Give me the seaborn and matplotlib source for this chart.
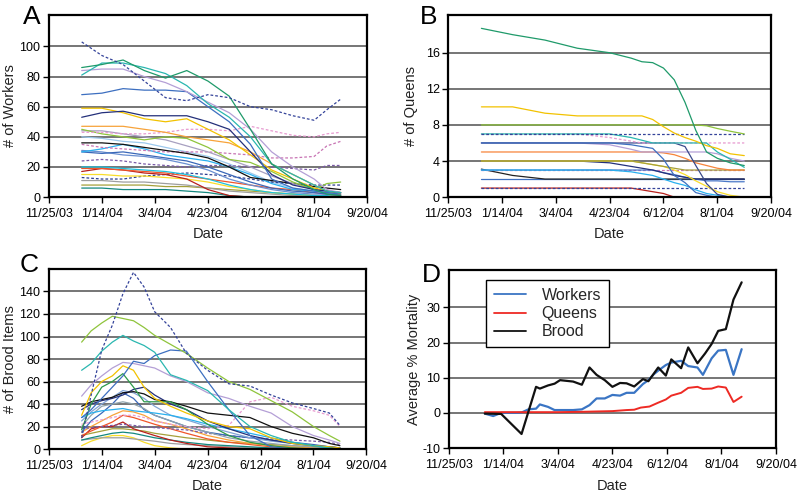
import matplotlib
matplotlib.use("Agg")
import matplotlib.pyplot as plt
import seaborn as sns

# ---------------- shared x axis (days since 11/25/03) ----------------
XTICKS = [0, 50, 100, 150, 200, 250, 300]
XLABELS = ["11/25/03", "1/14/04", "3/4/04", "4/23/04", "6/12/04", "8/1/04", "9/20/04"]

# ---------------- Panel A: # of Workers ----------------
A_days = [31, 50, 70, 90, 110, 130, 150, 170, 190, 210, 230, 250, 262, 275]
a_navy_dot = [103, 94, 88, 77, 66, 64, 68, 66, 60, 58, 54, 51, 58, 65]
a_green = [86, 88, 91, 84, 79, 84, 77, 67, 45, 22, 12, 5, 2, 1]
a_teal = [81, 89, 89, 86, 82, 74, 62, 53, 40, 22, 15, 8, 4, 3]
a_lavender = [84, 85, 85, 80, 76, 70, 63, 56, 45, 30, 20, 12, 5, 3]
a_blue = [68, 69, 72, 71, 71, 70, 60, 50, 35, 12, 6, 4, 3, 2]
a_navy = [53, 56, 57, 54, 54, 54, 50, 45, 30, 15, 8, 5, 4, 3]
a_yellow = [59, 59, 56, 52, 50, 52, 45, 38, 28, 18, 12, 6, 4, 2]
a_orange = [47, 47, 47, 45, 43, 40, 38, 36, 30, 22, 15, 8, 4, 3]
a_pink_dot = [43, 43, 42, 42, 43, 45, 45, 44, 47, 44, 41, 40, 42, 43]
a_lgreen = [45, 42, 40, 38, 40, 39, 33, 25, 23, 17, 10, 5, 9, 10]
a_mauve = [44, 44, 42, 40, 38, 34, 30, 25, 20, 14, 9, 5, 4, 3]
a_skyblue = [40, 39, 37, 36, 33, 30, 27, 22, 16, 10, 6, 4, 3, 2]
a_black = [36, 36, 35, 33, 31, 29, 26, 20, 13, 11, 9, 7, 6, 5]
a_pink2_dot = [35, 33, 32, 31, 30, 30, 30, 29, 28, 26, 26, 27, 34, 37]
a_cyan = [30, 32, 35, 32, 28, 26, 24, 20, 15, 9, 5, 4, 3, 3]
a_blue2 = [30, 29, 30, 28, 26, 24, 20, 15, 10, 6, 4, 3, 2, 2]
a_blue3 = [31, 30, 28, 27, 25, 22, 18, 12, 8, 5, 3, 2, 2, 1]
a_purple_dot = [24, 25, 24, 22, 21, 20, 21, 21, 20, 20, 19, 18, 21, 21]
a_cyan2 = [20, 20, 19, 18, 17, 15, 12, 8, 5, 3, 2, 1, 1, 0]
a_redorange = [19, 19, 18, 17, 16, 14, 12, 10, 8, 6, 5, 3, 2, 1]
a_darkred = [17, 19, 18, 16, 15, 12, 5, 1, 0, 0, 0, 0, 0, 0]
a_yellow2 = [15, 15, 14, 14, 13, 12, 10, 7, 5, 3, 2, 1, 1, 0]
a_navy_dot2 = [13, 12, 12, 14, 15, 16, 15, 14, 12, 10, 9, 8, 8, 8]
a_gray = [11, 11, 10, 10, 9, 8, 6, 4, 3, 2, 1, 1, 0, 0]
a_olive = [8, 8, 8, 8, 7, 7, 6, 5, 4, 3, 2, 1, 1, 1]
a_tealdk = [6, 6, 5, 5, 5, 4, 3, 1, 0, 0, 0, 0, 0, 0]

# ---------------- Panel B: # of Queens ----------------
B_days = [31, 60, 90, 120, 150, 170, 180, 190, 200, 210, 220, 230, 240, 250, 262, 275]
b_green = [18.7, 18.0, 17.4, 16.5, 16.0, 15.4, 15.0, 14.9, 14.3, 13.0, 10.5, 7.4, 5.0, 4.3, 3.8, 3.5]
b_yellow = [10, 10, 9.3, 9, 9, 9, 9, 8.6, 7.8, 7.1, 6.6, 6.2, 5.7, 5.4, 4.8, 4.6]
b_lgreen = [8, 8, 8, 8, 8, 8, 8, 8, 8, 8, 8, 8, 7.9, 7.6, 7.3, 7.0]
b_navy_dot = [7, 7, 7, 7, 7, 7, 7, 7, 7, 7, 7, 7, 7, 7, 7, 7]
b_teal = [7, 7, 7, 7, 7, 6.6, 6.3, 6.0, 6.0, 6.0, 6.0, 6.0, 6.0, 5.0, 4.2, 3.3]
b_pink_dot = [7, 7, 7, 7, 6.6, 6.2, 6, 6, 6, 6, 6, 6, 6, 6, 6, 6]
b_blue = [6, 6, 6, 6, 6, 5.8, 5.6, 5.4, 4.2, 2.4, 1.6, 0.5, 0.2, 0, 0, 0]
b_navy = [6, 6, 6, 6, 6, 6, 6, 6, 6, 6, 5.6, 3.5, 1.5, 0.3, 0, 0]
b_lavender = [6, 6, 6, 6, 5.8, 5.3, 5, 5, 5, 5, 5, 5, 5, 4.8, 4.3, 4]
b_orange = [5, 5, 5, 5, 5, 5, 5, 5, 4.9, 4.7, 4.3, 3.8, 3.5, 3.2, 3, 3]
b_olive = [4, 4, 4, 4, 4, 4, 3.8, 3.6, 3.4, 3.2, 3.0, 3.0, 3.0, 3.0, 3.0, 3.0]
b_yellow2 = [4, 4, 4, 4, 4, 4, 3.8, 3.6, 3.4, 3.0, 2.5, 1.8, 1.2, 0.6, 0.2, 0]
b_navy2 = [4, 4, 4, 4, 3.8, 3.4, 3.2, 3, 2.7, 2.4, 2.2, 2.0, 2.0, 2.0, 2.0, 2.0]
b_cyan = [3, 3, 3, 3, 3, 2.8, 2.6, 2.4, 2.0, 1.6, 1.3, 0.8, 0.4, 0.2, 0, 0]
b_blue2 = [3, 3, 3, 3, 3, 3, 3, 3, 2.7, 2.5, 2.2, 2.0, 1.8, 1.8, 1.7, 1.7]
b_pink2_dot = [3, 3, 3, 3, 3, 3, 3, 3, 3, 3, 3, 3, 3, 3, 3, 3]
b_black = [3.1, 2.4, 2, 2, 2, 2, 2, 2, 2, 2, 2, 2, 2, 2, 2, 2]
b_blue3 = [2, 2, 2, 2, 2, 2, 2, 2, 2, 2, 2, 2, 2, 2, 2, 2]
b_navy_dot2 = [1, 1, 1, 1, 1, 1, 1, 1, 1, 1, 1, 1, 1, 1, 1, 1]
b_darkred = [1, 1, 1, 1, 1, 1, 0.8, 0.6, 0.4, 0, 0, 0, 0, 0, 0, 0]
b_orange0 = [0, 0, 0, 0, 0, 0, 0, 0, 0, 0, 0, 0, 0, 0, 0, 0]

# ---------------- Panel C: # of Brood Items ----------------
C_days = [31, 40, 50, 60, 70, 80, 90, 100, 115, 130, 150, 170, 190, 210, 230, 250, 265, 275]
c_navy_dot = [10, 48, 88, 110, 138, 157, 144, 122, 108, 85, 70, 58, 56, 48, 41, 36, 32, 21]
c_lgreen = [95, 105, 112, 118, 116, 114, 108, 101, 93, 85, 72, 60, 53, 43, 33, 20, 12, 7]
c_teal = [70, 76, 87, 95, 101, 96, 92, 86, 66, 61, 52, 35, 20, 12, 6, 3, 1, 0]
c_blue = [28, 35, 45, 55, 65, 78, 76, 83, 88, 87, 60, 35, 12, 2, 0, 0, 0, 0]
c_lavender = [47, 57, 65, 72, 77, 76, 74, 72, 65, 60, 50, 45, 38, 32, 20, 12, 8, 5]
c_yellow = [30, 50, 60, 65, 74, 70, 55, 45, 38, 32, 25, 20, 18, 10, 5, 3, 2, 1]
c_green = [17, 40, 55, 60, 67, 55, 42, 42, 42, 35, 22, 12, 6, 3, 1, 0, 0, 0]
c_black = [38, 42, 44, 46, 50, 51, 49, 44, 42, 38, 32, 30, 28, 20, 14, 10, 5, 3]
c_navy = [35, 40, 43, 45, 48, 53, 55, 48, 40, 35, 25, 18, 12, 8, 5, 3, 2, 1]
c_pink_dot = [22, 24, 26, 28, 30, 30, 28, 25, 22, 20, 18, 21, 42, 46, 38, 34, 30, 20]
c_cyan = [28, 32, 34, 35, 36, 34, 33, 32, 30, 27, 22, 18, 14, 10, 6, 3, 1, 1]
c_orange = [15, 20, 25, 30, 34, 33, 30, 25, 22, 18, 12, 8, 5, 3, 2, 1, 0, 0]
c_redorange = [12, 16, 20, 24, 30, 28, 25, 22, 18, 14, 9, 6, 4, 2, 1, 0, 0, 0]
c_darkred = [10, 18, 20, 20, 24, 18, 15, 12, 8, 5, 2, 1, 0, 0, 0, 0, 0, 0]
c_graybl = [20, 30, 38, 40, 42, 40, 36, 30, 25, 20, 15, 10, 7, 5, 3, 2, 1, 0]
c_yellow2 = [3, 7, 10, 12, 12, 10, 6, 3, 1, 0, 0, 0, 0, 0, 0, 0, 0, 0]
c_gray = [8, 9, 10, 10, 10, 9, 8, 7, 5, 4, 3, 2, 1, 1, 0, 0, 0, 0]
c_blue2 = [15, 25, 32, 40, 50, 45, 35, 30, 25, 20, 15, 12, 10, 8, 6, 4, 2, 1]
c_purple_dot = [18, 19, 20, 21, 22, 21, 20, 19, 18, 17, 14, 12, 10, 9, 8, 7, 6, 4]
c_tealdk = [8, 10, 12, 14, 15, 14, 12, 10, 8, 6, 4, 3, 2, 1, 1, 0, 0, 0]
c_olive = [12, 14, 16, 18, 18, 17, 16, 14, 12, 10, 8, 6, 5, 4, 3, 2, 1, 0]
c_steel = [25, 33, 40, 46, 52, 50, 45, 38, 30, 26, 20, 15, 10, 7, 5, 3, 2, 1]

# ---------------- Panel D: Average % Mortality ----------------
d_workers_days = [33, 40.7, 48, 62, 66.7, 73, 80, 83.5, 91, 97, 114, 122, 129, 135.5, 143, 150, 157, 163,
                  170, 178, 183, 188, 192, 199, 204, 213, 219.5, 228, 233, 241, 247, 254, 261, 268.5]
d_workers = [-0.2, -0.9, 0, 0, 0.1, 1.0, 1.2, 2.4, 1.7, 0.8, 0.8, 1.0, 2.2, 4.1, 4.1, 5.1, 4.9, 5.7,
             5.7, 8.2, 9.3, 11.0, 12.0, 13.6, 14.3, 14.8, 13.3, 12.9, 10.8, 15.5, 17.7, 17.9, 10.8, 18.1]
d_queens_days = [33, 100, 122, 135.5, 150, 163, 170, 176, 184, 192, 199, 204, 213, 219.5, 228, 233,
                 241, 247, 254, 261, 268.5]
d_queens = [0.2, 0.2, 0.3, 0.4, 0.5, 0.8, 0.9, 1.5, 1.8, 2.9, 3.8, 4.9, 5.7, 7.1, 7.4, 6.8,
            6.9, 7.5, 7.2, 3.1, 4.6]
d_brood_days = [33, 48, 66.7, 80, 83.5, 91, 97, 102, 114, 122, 129, 135.5, 143, 150, 157, 163, 170,
                178, 183, 192, 199, 204, 213, 219.5, 228, 235, 241, 247, 254, 261, 268.5]
d_brood = [-0.2, -0.3, -6.0, 7.4, 6.9, 7.8, 8.3, 9.3, 8.9, 8.0, 12.9, 10.8, 9.3, 7.4, 8.5, 8.4, 7.5,
           9.6, 9.0, 12.9, 10.6, 15.2, 12.7, 18.6, 14.1, 16.9, 19.6, 23.3, 23.8, 32.2, 37.1]

# ---------------- styling tables ----------------
A_SERIES = [
    (a_skyblue, "#9cc8ec", False), (a_tealdk, "#13877e", False), (a_olive, "#a5a03a", False),
    (a_gray, "#9e9e9e", False), (a_navy_dot2, "#2b3d8f", True), (a_yellow2, "#f9dd2a", False),
    (a_darkred, "#b8201c", False), (a_redorange, "#f0562a", False), (a_cyan2, "#1fc0dc", False),
    (a_purple_dot, "#7a5aa6", True), (a_blue3, "#6a8fd0", False), (a_blue2, "#3a68b8", False),
    (a_cyan, "#29b0ef", False), (a_pink2_dot, "#c874b4", True), (a_black, "#111111", False),
    (a_mauve, "#a7a0c0", False), (a_lgreen, "#8fc43c", False), (a_pink_dot, "#e79ad0", True),
    (a_orange, "#f7a33a", False), (a_yellow, "#f2c200", False), (a_navy, "#24307a", False),
    (a_blue, "#3d6fc0", False), (a_lavender, "#b49fd6", False), (a_teal, "#2ab7b0", False),
    (a_green, "#1f9a6a", False), (a_navy_dot, "#34439a", True),
]
B_SERIES = [
    (b_orange0, "#e08a1a", False), (b_darkred, "#b8201c", False), (b_navy_dot2, "#34439a", True),
    (b_blue3, "#3d6fc0", False), (b_black, "#222222", False), (b_pink2_dot, "#c874b4", True),
    (b_blue2, "#4a78c8", False), (b_cyan, "#29b0ef", False), (b_navy2, "#24307a", False),
    (b_yellow2, "#f9dd2a", False), (b_olive, "#a5a03a", False), (b_orange, "#f7843a", False),
    (b_lavender, "#b49fd6", False), (b_navy, "#3a4a8a", False), (b_blue, "#3d6fc0", False),
    (b_pink_dot, "#e79ad0", True), (b_teal, "#2ab7b0", False), (b_navy_dot, "#34439a", True),
    (b_lgreen, "#8fc43c", False), (b_yellow, "#f2c200", False), (b_green, "#1f9a6a", False),
]
C_SERIES = [
    (c_yellow2, "#f9dd2a", False), (c_gray, "#9e9e9e", False), (c_tealdk, "#13877e", False),
    (c_olive, "#a5a03a", False), (c_darkred, "#b8201c", False), (c_redorange, "#f0562a", False),
    (c_orange, "#f7a33a", False), (c_purple_dot, "#7a5aa6", True), (c_blue2, "#3a68b8", False),
    (c_graybl, "#90a4ae", False), (c_steel, "#81a4d6", False), (c_cyan, "#29b0ef", False),
    (c_pink_dot, "#e79ad0", True), (c_navy, "#24307a", False), (c_black, "#111111", False),
    (c_green, "#2e9a4a", False), (c_yellow, "#f2c200", False), (c_lavender, "#b49fd6", False),
    (c_blue, "#3d6fc0", False), (c_teal, "#2ab7b0", False), (c_lgreen, "#8fc43c", False),
    (c_navy_dot, "#34439a", True),
]

sns.set_style("white")
plt.rcParams["font.family"] = ["Liberation Sans", "DejaVu Sans"]

fig = plt.figure(figsize=(8.0, 4.94), dpi=100)
axA = fig.add_axes([0.061, 0.601, 0.398, 0.369])
axB = fig.add_axes([0.560, 0.601, 0.404, 0.369])
axC = fig.add_axes([0.061, 0.091, 0.397, 0.3645])
axD = fig.add_axes([0.561, 0.093, 0.409, 0.3604])


def draw_many(ax, days, series):
    for vals, color, dotted in series:
        sns.lineplot(x=days, y=vals, ax=ax, color=color, linewidth=0.9,
                     linestyle=(0, (2.2, 1.6)) if dotted else "-", legend=False)


def style_ax(ax, ylim, yticks, ylabel, ylab_x, xlab_y):
    ax.set_xlim(0, 300)
    ax.set_ylim(*ylim)
    ax.set_xticks(XTICKS)
    ax.set_xticklabels(XLABELS)
    ax.set_yticks(yticks)
    ax.set_yticklabels([str(t) for t in yticks])
    ax.yaxis.grid(True, color="#505050", linewidth=1.1)
    ax.xaxis.grid(False)
    ax.set_axisbelow(True)
    for s in ax.spines.values():
        s.set_visible(True)
        s.set_color("black")
        s.set_linewidth(1.6)
    ax.tick_params(axis="both", direction="out", length=4, width=1, labelsize=9,
                   colors="black", pad=2)
    ax.tick_params(axis="x", pad=4)
    ax.tick_params(left=True, bottom=True)
    ax.set_xlabel("Date", fontsize=10.5, color="#222222")
    ax.set_ylabel(ylabel, fontsize=10.5, color="#222222")
    ax.yaxis.set_label_coords(ylab_x, 0.5)
    ax.xaxis.set_label_coords(0.5, xlab_y)
    ax.xaxis.label.set_va("top")


draw_many(axA, A_days, A_SERIES)
draw_many(axB, B_days, B_SERIES)
draw_many(axC, C_days, C_SERIES)

sns.lineplot(x=d_workers_days, y=d_workers, ax=axD, color="#3a75c4", linewidth=1.6, label="Workers")
sns.lineplot(x=d_queens_days, y=d_queens, ax=axD, color="#ee2a24", linewidth=1.4, label="Queens")
sns.lineplot(x=d_brood_days, y=d_brood, ax=axD, color="#111111", linewidth=1.6, label="Brood")

style_ax(axA, (0, 121), [0, 20, 40, 60, 80, 100], "# of Workers", -0.10, -0.165)
style_ax(axB, (0, 20.2), [0, 4, 8, 12, 16], "# of Queens", -0.093, -0.165)
style_ax(axC, (0, 160), [0, 20, 40, 60, 80, 100, 120, 140], "# of Brood Items", -0.101, -0.167)
style_ax(axD, (-10, 40.6), [-10, 0, 10, 20, 30], "Average % Mortality", -0.086, -0.174)

leg = axD.legend(loc="upper left", bbox_to_anchor=(0.113, 0.944), borderaxespad=0,
                 fontsize=11.5, handlelength=2.0, handletextpad=1.0, labelspacing=0.2,
                 borderpad=0.5, frameon=True, fancybox=False, edgecolor="black", framealpha=1)
leg.get_frame().set_linewidth(1.0)
for line in leg.get_lines():
    line.set_linewidth(1.3)

for letter, x, y in [("A", 23, 5), ("B", 420, 5), ("C", 20, 253), ("D", 422, 263)]:
    fig.text(x / 800, 1 - y / 494, letter, fontsize=19, ha="left", va="top", color="black")

fig.savefig("out.png", dpi=100)
